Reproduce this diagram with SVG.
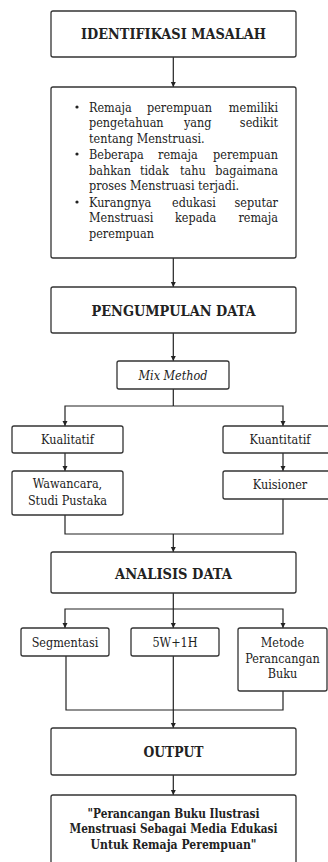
<svg xmlns="http://www.w3.org/2000/svg" width="328" height="862" viewBox="0 0 328 862">
<style>
.box{fill:#fff;stroke:#333;stroke-width:1.3}
.t{font-family:"DejaVu Serif Condensed","DejaVu Serif","Liberation Serif",serif;font-size:12.5px;fill:#222}
.b{font-family:"DejaVu Serif","Liberation Serif",serif;font-size:14.5px;font-weight:bold;fill:#222}
.bq{font-family:"DejaVu Serif","Liberation Serif",serif;font-size:12px;font-weight:bold;fill:#222}
.c{text-anchor:middle}
.e{text-anchor:end}
.ln{fill:none;stroke:#222;stroke-width:1.2}
</style>
<defs>
<marker id="ah" markerUnits="userSpaceOnUse" markerWidth="6" markerHeight="6" refX="5" refY="3" orient="auto">
<path d="M0,0.5 L5,3 L0,5.5 z" fill="#222"/>
</marker>
</defs>
<rect width="328" height="862" fill="#fff"/>
<g id="connectors">
<path class="ln" d="M173.3,57 V87" marker-end="url(#ah)"/>
<path class="ln" d="M173.3,258 V287" marker-end="url(#ah)"/>
<path class="ln" d="M173.3,333 V361" marker-end="url(#ah)"/>
<path class="ln" d="M173.3,389 V406"/>
<path class="ln" d="M173.3,406 H65 V426" marker-end="url(#ah)"/>
<path class="ln" d="M173.3,406 H283 V426" marker-end="url(#ah)"/>
<path class="ln" d="M65,453 V471" marker-end="url(#ah)"/>
<path class="ln" d="M283,453 V471" marker-end="url(#ah)"/>
<path class="ln" d="M65,515 V534 H283 V499"/>
<path class="ln" d="M173.3,534 V552" marker-end="url(#ah)"/>
<path class="ln" d="M173.3,593 V628" marker-end="url(#ah)"/>
<path class="ln" d="M173.3,609 H65 V628" marker-end="url(#ah)"/>
<path class="ln" d="M173.3,609 H283 V628" marker-end="url(#ah)"/>
<path class="ln" d="M66,656 V710 H283 V691"/>
<path class="ln" d="M173.3,656 V728" marker-end="url(#ah)"/>
<path class="ln" d="M173.3,775 V795" marker-end="url(#ah)"/>
</g>
<g id="identifikasi">
<rect class="box" x="51" y="11" width="245" height="46" rx="2"/>
<text class="b c" x="173.5" y="38.5" textLength="185" lengthAdjust="spacingAndGlyphs">IDENTIFIKASI MASALAH</text>
</g>
<g id="masalah">
<rect class="box" x="51" y="87" width="245" height="171" rx="2"/>
<circle cx="77" cy="107" r="1.6" fill="#222"/>
<circle cx="77" cy="154" r="1.6" fill="#222"/>
<circle cx="77" cy="202" r="1.6" fill="#222"/>
<text class="t" x="89" y="111.5">Remaja</text>
<text class="t" x="147" y="111.5">perempuan</text>
<text class="t e" x="278" y="111.5">memiliki</text>
<text class="t" x="89" y="127">pengetahuan</text>
<text class="t" x="184" y="127">yang</text>
<text class="t e" x="278" y="127">sedikit</text>
<text class="t" x="89" y="142.5">tentang Menstruasi.</text>
<text class="t" x="89" y="158.5">Beberapa</text>
<text class="t" x="158" y="158.5">remaja</text>
<text class="t e" x="278" y="158.5">perempuan</text>
<text class="t" x="89" y="174.5">bahkan</text>
<text class="t" x="140" y="174.5">tidak</text>
<text class="t" x="180" y="174.5">tahu</text>
<text class="t e" x="278" y="174.5">bagaimana</text>
<text class="t" x="89" y="190">proses Menstruasi terjadi.</text>
<text class="t" x="89" y="206.5">Kurangnya</text>
<text class="t" x="172" y="206.5">edukasi</text>
<text class="t e" x="278" y="206.5">seputar</text>
<text class="t" x="89" y="222">Menstruasi</text>
<text class="t" x="175" y="222">kepada</text>
<text class="t e" x="278" y="222">remaja</text>
<text class="t" x="89" y="237.5">perempuan</text>
</g>
<g id="pengumpulan">
<rect class="box" x="51" y="287" width="245" height="46" rx="2"/>
<text class="b c" x="173.5" y="316" textLength="164" lengthAdjust="spacingAndGlyphs">PENGUMPULAN DATA</text>
</g>
<g id="mix">
<rect class="box" x="117" y="361" width="112" height="28" rx="2"/>
<text class="t c" x="173" y="379.5" font-style="italic">Mix Method</text>
</g>
<g id="kualitatif">
<rect class="box" x="12" y="426" width="111" height="27" rx="2"/>
<text class="t c" x="67.5" y="444">Kualitatif</text>
</g>
<g id="kuantitatif">
<rect class="box" x="223" y="426" width="115" height="27" rx="2"/>
<text class="t c" x="280" y="444">Kuantitatif</text>
</g>
<g id="wawancara">
<rect class="box" x="12" y="471" width="111" height="44" rx="2"/>
<text class="t c" x="67.5" y="487.5">Wawancara,</text>
<text class="t c" x="67.5" y="504.5">Studi Pustaka</text>
</g>
<g id="kuisioner">
<rect class="box" x="223" y="471" width="115" height="28" rx="2"/>
<text class="t c" x="280" y="488.5">Kuisioner</text>
</g>
<g id="analisis">
<rect class="box" x="51" y="552" width="245" height="41" rx="2"/>
<text class="b c" x="173.5" y="578.5" textLength="117" lengthAdjust="spacingAndGlyphs">ANALISIS DATA</text>
</g>
<g id="segmentasi">
<rect class="box" x="21" y="628" width="88" height="28" rx="2"/>
<text class="t c" x="65" y="646.5">Segmentasi</text>
</g>
<g id="w5h1">
<rect class="box" x="131" y="628" width="88" height="28" rx="2"/>
<text class="t c" x="175" y="646.5">5W+1H</text>
</g>
<g id="metode">
<rect class="box" x="238" y="628" width="89" height="63" rx="2"/>
<text class="t c" x="282.5" y="646.5">Metode</text>
<text class="t c" x="282.5" y="662.5">Perancangan</text>
<text class="t c" x="282.5" y="677.5">Buku</text>
</g>
<g id="output">
<rect class="box" x="51" y="728" width="245" height="47" rx="2"/>
<text class="b c" x="173.5" y="757" textLength="60" lengthAdjust="spacingAndGlyphs">OUTPUT</text>
</g>
<g id="hasil">
<rect class="box" x="51" y="795" width="245" height="80" rx="2"/>
<text class="bq c" x="173.5" y="817.5" textLength="172" lengthAdjust="spacingAndGlyphs">"Perancangan Buku Ilustrasi</text>
<text class="bq c" x="173.5" y="833" textLength="208" lengthAdjust="spacingAndGlyphs">Menstruasi Sebagai Media Edukasi</text>
<text class="bq c" x="173.5" y="848.5" textLength="166" lengthAdjust="spacingAndGlyphs">Untuk Remaja Perempuan"</text>
</g>
</svg>
